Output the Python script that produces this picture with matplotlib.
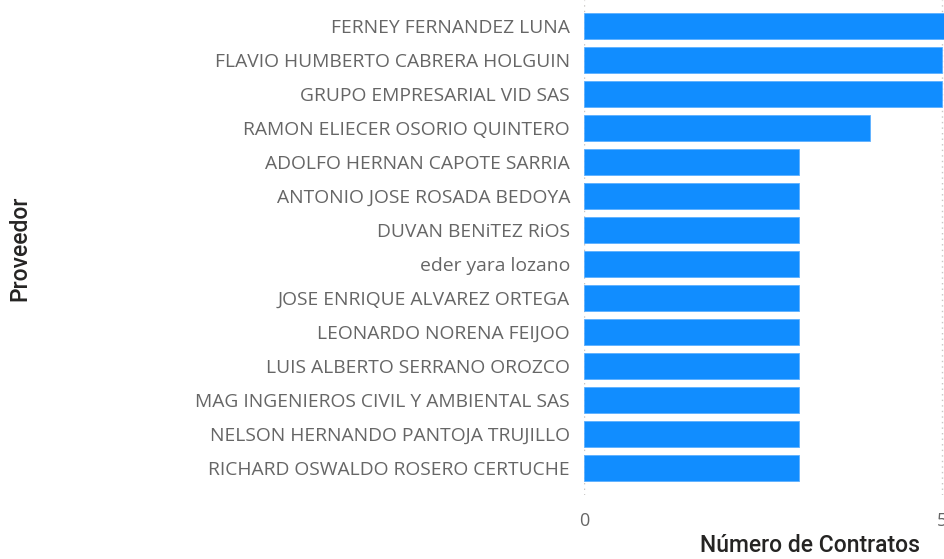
import matplotlib
matplotlib.use("Agg")
import matplotlib.pyplot as plt

proveedores = [
    "FERNEY FERNANDEZ LUNA",
    "FLAVIO HUMBERTO CABRERA HOLGUIN",
    "GRUPO EMPRESARIAL VID SAS",
    "RAMON ELIECER OSORIO QUINTERO",
    "ADOLFO HERNAN CAPOTE SARRIA",
    "ANTONIO JOSE ROSADA BEDOYA",
    "DUVAN BENiTEZ RiOS",
    "eder yara lozano",
    "JOSE ENRIQUE ALVAREZ ORTEGA",
    "LEONARDO NORENA FEIJOO",
    "LUIS ALBERTO SERRANO OROZCO",
    "MAG INGENIEROS CIVIL Y AMBIENTAL SAS",
    "NELSON HERNANDO PANTOJA TRUJILLO",
    "RICHARD OSWALDO ROSERO CERTUCHE",
]
contratos = [6, 5, 5, 4, 3, 3, 3, 3, 3, 3, 3, 3, 3, 3]
x_ticks = [0, 5]

W, H = 945, 559
fig = plt.figure(figsize=(W / 100, H / 100), dpi=100)
fig.patch.set_facecolor("white")

ax = fig.add_axes([584 / W, 1 - 495 / H, 451 / W, 495 / H])
ypos = list(range(len(proveedores)))
ax.barh(ypos, contratos, height=0.76, color="#118DFF", edgecolor="#5DB0FF",
        linewidth=0.6, zorder=3)

ax.set_ylim(len(proveedores) - 1 + 0.79, -0.765)
ax.set_xticks(x_ticks)
ax.set_xlim(0, 6.3)
ax.set_yticks(ypos)
ax.set_yticklabels(proveedores, fontfamily="Open Sans", fontsize=13.9, color="#666666")
ax.set_xticklabels([str(t) for t in x_ticks], fontfamily="Open Sans", fontsize=13,
                   color="#666666")
ax.tick_params(axis="y", length=0, pad=10)
ax.tick_params(axis="x", length=0, pad=12)
for s in ax.spines.values():
    s.set_visible(False)
ax.grid(axis="x", linestyle=(0, (1, 3)), color="#C8C6C4", linewidth=1, zorder=0)
ax.grid(axis="y", visible=False)

fig.text(810 / W, 1 - 546 / H, "Número de Contratos", ha="center", va="center",
         fontfamily="Roboto", fontsize=16.5, color="#252423", fontweight="medium")
fig.text(20 / W, 1 - 248 / H, "Proveedor", ha="center", va="center", rotation=90,
         fontfamily="Roboto", fontsize=16.5, color="#252423", fontweight="medium")

fig.savefig("out.png", dpi=100)
